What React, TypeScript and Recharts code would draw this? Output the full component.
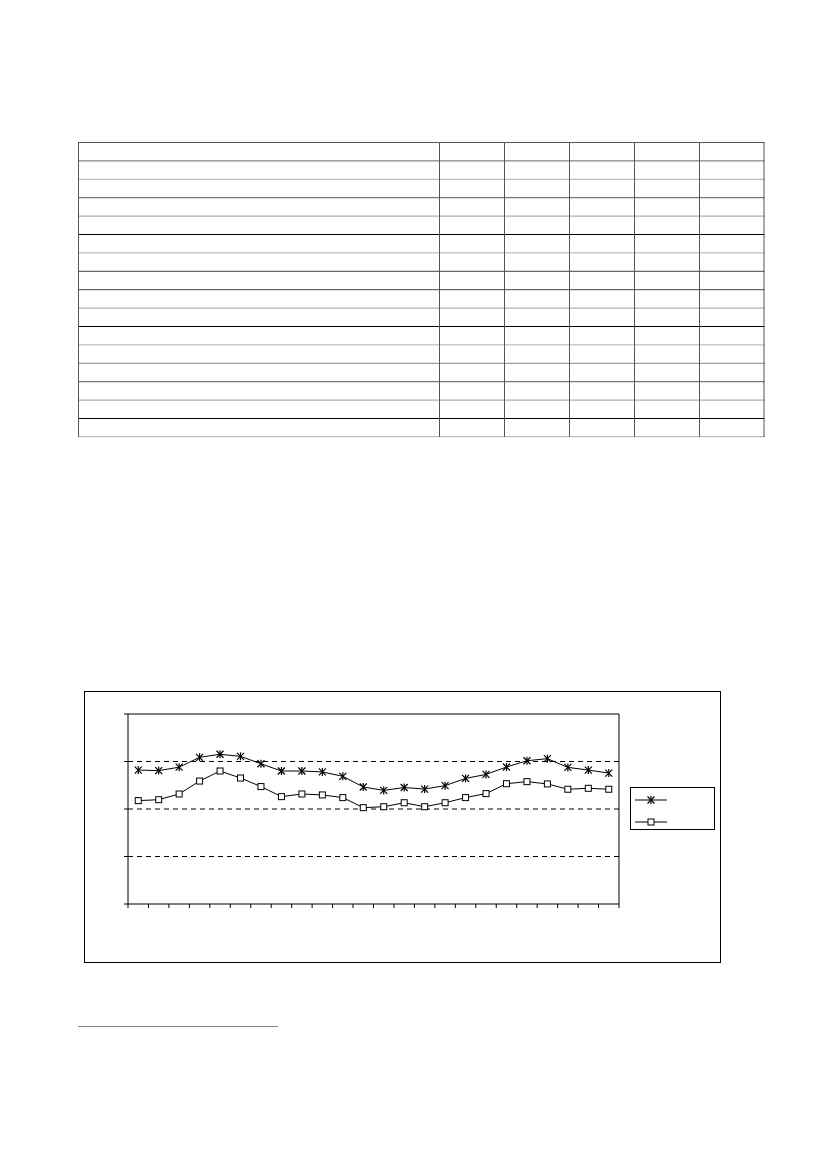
import React from "react";
import { LineChart, Line, XAxis, YAxis, ReferenceLine, Legend } from "recharts";

// 24 periods along the x axis (no labels are printed in the source)
const periods = [1, 2, 3, 4, 5, 6, 7, 8, 9, 10, 11, 12, 13, 14, 15, 16, 17, 18, 19, 20, 21, 22, 23, 24];
const seriesA = [70.5, 70.2, 72, 77.2, 78.8, 77.7, 73.8, 70, 70, 69.5, 67.2, 61.6, 59.8, 61.3, 60.5, 62.3, 66.1, 68.2, 72.1, 75.4, 76.5, 71.9, 70.5, 68.9];
const seriesB = [54.4, 54.9, 57.9, 64.7, 70, 66.3, 61.8, 56.5, 57.9, 57.4, 56, 50.7, 51.2, 53.3, 51.2, 53.3, 56, 58.1, 63.3, 64.4, 63.2, 60.4, 60.9, 60.4];
const yTicks = [0, 25, 50, 75, 100];
const xTicks = [0, ...periods];

const data = periods.map((p, i) => ({ x: p - 0.5, a: seriesA[i], b: seriesB[i] }));

// table frame of the page above the chart
const tableRows = [142.5, 160.9, 179.3, 197.7, 216.1, 234.5, 252.9, 271.3, 289.7, 308.1, 326.5, 344.9, 363.3, 381.7, 400.1, 418.5, 436.7];
const rowColors = ["#555", "#666", "#aaa", "#555", "#999", "#000", "#aaa", "#444", "#444", "#999", "#000", "#aaa", "#888", "#555", "#999", "#000", "#aaa"];
const tableCols = [78.5, 439.5, 504.5, 569.5, 634.5, 699.5, 764];

const NoLabel = () => <g />;

function StarDot(props: any) {
  const { cx, cy } = props;
  if (cx == null || cy == null) return null;
  const r = 3.5;
  return (
    <g stroke="#000" strokeWidth={1.2}>
      <line x1={cx - r} y1={cy - r} x2={cx + r} y2={cy + r} />
      <line x1={cx - r} y1={cy + r} x2={cx + r} y2={cy - r} />
      <line x1={cx} y1={cy - r - 0.5} x2={cx} y2={cy + r + 0.5} />
    </g>
  );
}

function SquareDot(props: any) {
  const { cx, cy } = props;
  if (cx == null || cy == null) return null;
  return <rect x={cx - 3} y={cy - 3} width={6} height={6} fill="#fff" stroke="#000" strokeWidth={1} />;
}

function LegendBox(props: any) {
  const items = props.payload || [];
  return (
    <div style={{ width: 85, height: 43, border: "1px solid #000", background: "#fff", boxSizing: "border-box" }}>
      <svg width={84} height={42}>
        {items.map((it: any, i: number) => {
          const y = i === 0 ? 12 : 34;
          return (
            <g key={i}>
              <line x1={4} y1={y} x2={36} y2={y} stroke="#000" strokeWidth={1} />
              {it.dataKey === "a" ? <StarDot cx={20} cy={y} /> : <SquareDot cx={20} cy={y} />}
            </g>
          );
        })}
      </svg>
    </div>
  );
}

export default function App() {
  return (
    <div style={{ position: "absolute", left: 0, top: 0, width: 827, height: 1169, background: "#fff" }}>
      <svg width={827} height={1169} style={{ position: "absolute", left: 0, top: 0 }}>
        {tableRows.map((y, i) => (
          <line key={"r" + i} x1={78} x2={764.5} y1={y} y2={y} stroke={rowColors[i]} strokeWidth={1} />
        ))}
        {tableCols.map((x, i) => (
          <line key={"c" + i} x1={x} x2={x} y1={142} y2={437} stroke="#555" strokeWidth={1} />
        ))}
        <line x1={78} x2={278} y1={1026.5} y2={1026.5} stroke="#888" strokeWidth={1.2} />
      </svg>

      <div style={{ position: "absolute", left: 84, top: 691, width: 637, height: 272 }}>
        <LineChart width={637} height={272} data={data} margin={{ top: 22, left: 43, right: 101, bottom: 58 }}>
          <XAxis
            dataKey="x"
            type="number"
            domain={[0, 24]}
            ticks={xTicks}
            interval={0}
            tick={NoLabel}
            tickSize={4}
            height={1}
            axisLine={{ stroke: "#000" }}
            tickLine={{ stroke: "#000" }}
          />
          <XAxis xAxisId="top" orientation="top" type="number" domain={[0, 24]} tick={false} tickLine={false} height={1} axisLine={{ stroke: "#000" }} />
          <YAxis
            type="number"
            domain={[0, 100]}
            ticks={yTicks}
            interval={0}
            tick={NoLabel}
            tickSize={4}
            width={1}
            axisLine={{ stroke: "#000" }}
            tickLine={{ stroke: "#000" }}
          />
          <YAxis yAxisId="right" orientation="right" type="number" domain={[0, 100]} tick={false} tickLine={false} width={1} axisLine={{ stroke: "#000" }} />
          {yTicks.slice(1, -1).map((v) => (
            <ReferenceLine key={v} y={v} stroke="#000" strokeDasharray="5 4" />
          ))}
          <Line dataKey="a" stroke="#000" strokeWidth={1} dot={<StarDot />} isAnimationActive={false} />
          <Line dataKey="b" stroke="#000" strokeWidth={1} dot={<SquareDot />} isAnimationActive={false} />
          <Legend
            layout="vertical"
            align="center"
            verticalAlign="middle"
            content={<LegendBox />}
            wrapperStyle={{ left: 546, top: 96, width: 86 }}
          />
        </LineChart>
        <div style={{ position: "absolute", left: 0, top: 0, width: 637, height: 272, border: "1px solid #000", boxSizing: "border-box", pointerEvents: "none" }} />
      </div>
    </div>
  );
}
